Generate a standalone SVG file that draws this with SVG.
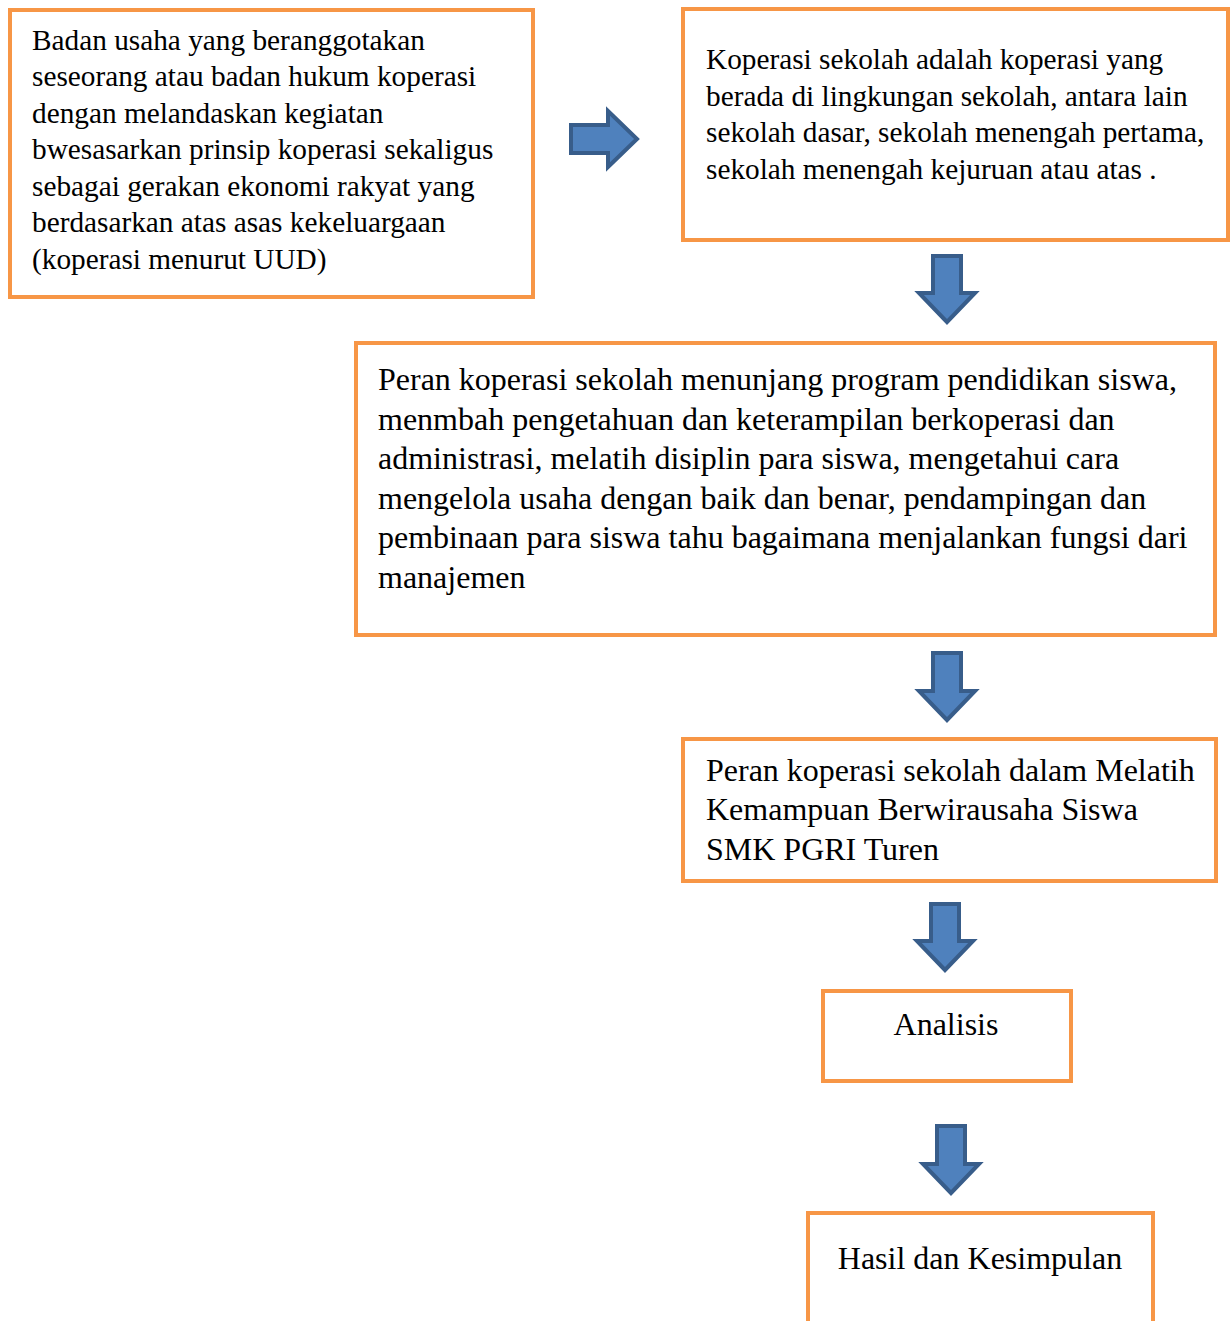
<svg xmlns="http://www.w3.org/2000/svg" width="1232" height="1321" viewBox="0 0 1232 1321">
<defs>
<style>
.box{fill:#fff;stroke:#F79646;stroke-width:4}
.arr{fill:#4F81BD;stroke:#385D8A;stroke-width:4;stroke-linejoin:miter}
.t{font-family:"Liberation Serif","Times New Roman",serif;fill:#000}
.s{font-size:29.3px}
.l{font-size:32px}
</style>
</defs>
<rect width="1232" height="1321" fill="#fff"/>
<g id="connectors">
<path class="arr" d="M571,125 H608 V111 L637,139 L608,167 V153 H571 Z"/>
<path class="arr" d="M933,256 H961 V293 H975 L947,322 L919,293 H933 Z"/>
<path class="arr" d="M933,653 H961 V691 H975 L947,720 L919,691 H933 Z"/>
<path class="arr" d="M931,904 H959 V941 H973 L945,970 L917,941 H931 Z"/>
<path class="arr" d="M937,1126 H965 V1164 H979 L951,1193 L923,1164 H937 Z"/>
</g>
<g id="node1">
<rect class="box" x="10" y="10" width="523" height="287"/>
<text class="t s" x="32"><tspan x="32" y="50">Badan usaha yang beranggotakan</tspan><tspan x="32" y="86">seseorang atau badan hukum koperasi</tspan><tspan x="32" y="123">dengan melandaskan kegiatan</tspan><tspan x="32" y="159">bwesasarkan prinsip koperasi sekaligus</tspan><tspan x="32" y="196">sebagai gerakan ekonomi rakyat yang</tspan><tspan x="32" y="232">berdasarkan atas asas kekeluargaan</tspan><tspan x="32" y="269">(koperasi menurut UUD)</tspan></text>
</g>
<g id="node2">
<rect class="box" x="683" y="9" width="545" height="231"/>
<text class="t s"><tspan x="706" y="69">Koperasi sekolah adalah koperasi yang</tspan><tspan x="706" y="106">berada di lingkungan sekolah, antara lain</tspan><tspan x="706" y="142">sekolah dasar, sekolah menengah pertama,</tspan><tspan x="706" y="179">sekolah menengah kejuruan atau atas .</tspan></text>
</g>
<g id="node3">
<rect class="box" x="356" y="343" width="859" height="292"/>
<text class="t l"><tspan x="378" y="390">Peran koperasi sekolah menunjang program pendidikan siswa,</tspan><tspan x="378" y="430">menmbah pengetahuan dan keterampilan berkoperasi dan</tspan><tspan x="378" y="469">administrasi, melatih disiplin para siswa, mengetahui cara</tspan><tspan x="378" y="509">mengelola usaha dengan baik dan benar, pendampingan dan</tspan><tspan x="378" y="548">pembinaan para siswa tahu bagaimana menjalankan fungsi dari</tspan><tspan x="378" y="588">manajemen</tspan></text>
</g>
<g id="node4">
<rect class="box" x="683" y="739" width="533" height="142"/>
<text class="t l"><tspan x="706" y="781">Peran koperasi sekolah dalam Melatih</tspan><tspan x="706" y="820">Kemampuan Berwirausaha Siswa</tspan><tspan x="706" y="860">SMK PGRI Turen</tspan></text>
</g>
<g id="node5">
<rect class="box" x="823" y="991" width="248" height="90"/>
<text class="t l" x="946" y="1035" text-anchor="middle">Analisis</text>
</g>
<g id="node6">
<path class="box" d="M808,1330 V1213 H1153 V1330"/>
<text class="t l" x="980" y="1269" text-anchor="middle">Hasil dan Kesimpulan</text>
</g>
</svg>
